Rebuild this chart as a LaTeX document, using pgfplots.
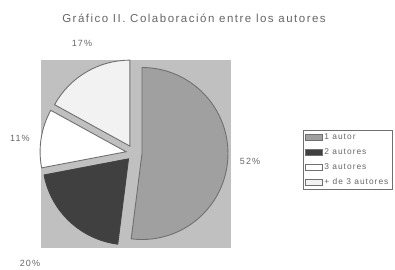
\documentclass[border=0pt]{standalone}
\usepackage{pgfplots}
\pgfplotsset{compat=1.18}
\usepackage{fontspec}
\setmainfont{Liberation Sans}
\newfontfamily\spaced[LetterSpace=13]{Liberation Sans}
\newfontfamily\lspaced[LetterSpace=12]{Liberation Sans}
\definecolor{areabg}{HTML}{C0C0C0}
\definecolor{sA}{HTML}{A0A0A0}
\definecolor{sB}{HTML}{404040}
\definecolor{sC}{HTML}{FFFFFF}
\definecolor{sD}{HTML}{F2F2F2}
\definecolor{edge}{HTML}{707070}
\definecolor{txt}{HTML}{666666}
% values (percent)
\def\vA{52}\def\vB{20}\def\vC{11}\def\vD{17}%
\pgfmathsetmacro\sA{90}%
\pgfmathsetmacro\eA{\sA-3.6*\vA}\pgfmathsetmacro\mA{\sA-1.8*\vA}%
\pgfmathsetmacro\eB{\eA-3.6*\vB}\pgfmathsetmacro\mB{\eA-1.8*\vB}%
\pgfmathsetmacro\eC{\eB-3.6*\vC}\pgfmathsetmacro\mC{\eB-1.8*\vC}%
\pgfmathsetmacro\eD{\eC-3.6*\vD}\pgfmathsetmacro\mD{\eC-1.8*\vD}%
\begin{document}
\begin{tikzpicture}
\begin{axis}[width=395pt,height=269pt,scale only axis,
  xmin=0,xmax=395,ymin=0,ymax=269,hide axis,clip=false,
  legend style={at={(axis cs:303,139)},anchor=north west,draw=edge,line width=0.8pt,
    font=\lspaced\fontsize{8.4}{10}\selectfont,text=txt,inner sep=1.5pt,row sep=3.5pt,
    legend cell align=left},
  legend image post style={line width=0.4pt}]
\coordinate (BL) at (axis cs:0,0);
\coordinate (TR) at (axis cs:395,269);
\fill[areabg] (axis cs:41,21) rectangle (axis cs:231,209);
\def\cx{134}\def\cy{116}\def\rr{86pt}
\filldraw[fill=sA,draw=edge,line width=0.9pt] (axis cs:\cx,\cy) ++(\mA:8pt) -- +(\sA:\rr) arc[start angle=\sA,end angle=\eA,radius=\rr] -- cycle;
\filldraw[fill=sB,draw=edge!60!black,line width=0.9pt] (axis cs:\cx,\cy) ++(\mB:8pt) -- +(\eA:\rr) arc[start angle=\eA,end angle=\eB,radius=\rr] -- cycle;
\filldraw[fill=sC,draw=edge,line width=0.9pt] (axis cs:\cx,\cy) ++(\mC:8pt) -- +(\eB:\rr) arc[start angle=\eB,end angle=\eC,radius=\rr] -- cycle;
\filldraw[fill=sD,draw=edge,line width=0.9pt] (axis cs:\cx,\cy) ++(\mD:8pt) -- +(\eC:\rr) arc[start angle=\eC,end angle=\eD,radius=\rr] -- cycle;
\node[text=txt,font=\spaced\fontsize{11.5}{13}\selectfont] at (axis cs:194,251) {Gráfico II. Colaboración entre los autores};
\node[text=txt,font=\lspaced\fontsize{9}{11}\selectfont] at (axis cs:82,226) {17\%};
\node[text=txt,font=\lspaced\fontsize{9}{11}\selectfont] at (axis cs:20,131) {11\%};
\node[text=txt,font=\lspaced\fontsize{9}{11}\selectfont] at (axis cs:250,108) {52\%};
\node[text=txt,font=\lspaced\fontsize{9}{11}\selectfont] at (axis cs:30,6) {20\%};
\addlegendimage{area legend,fill=sA,draw=edge}
\addlegendentry{1 autor}
\addlegendimage{area legend,fill=sB,draw=edge}
\addlegendentry{2 autores}
\addlegendimage{area legend,fill=sC,draw=edge}
\addlegendentry{3 autores}
\addlegendimage{area legend,fill=sD,draw=edge}
\addlegendentry{+ de 3 autores}
\end{axis}
\pgfresetboundingbox
\path (BL) rectangle (TR);
\end{tikzpicture}
\end{document}
